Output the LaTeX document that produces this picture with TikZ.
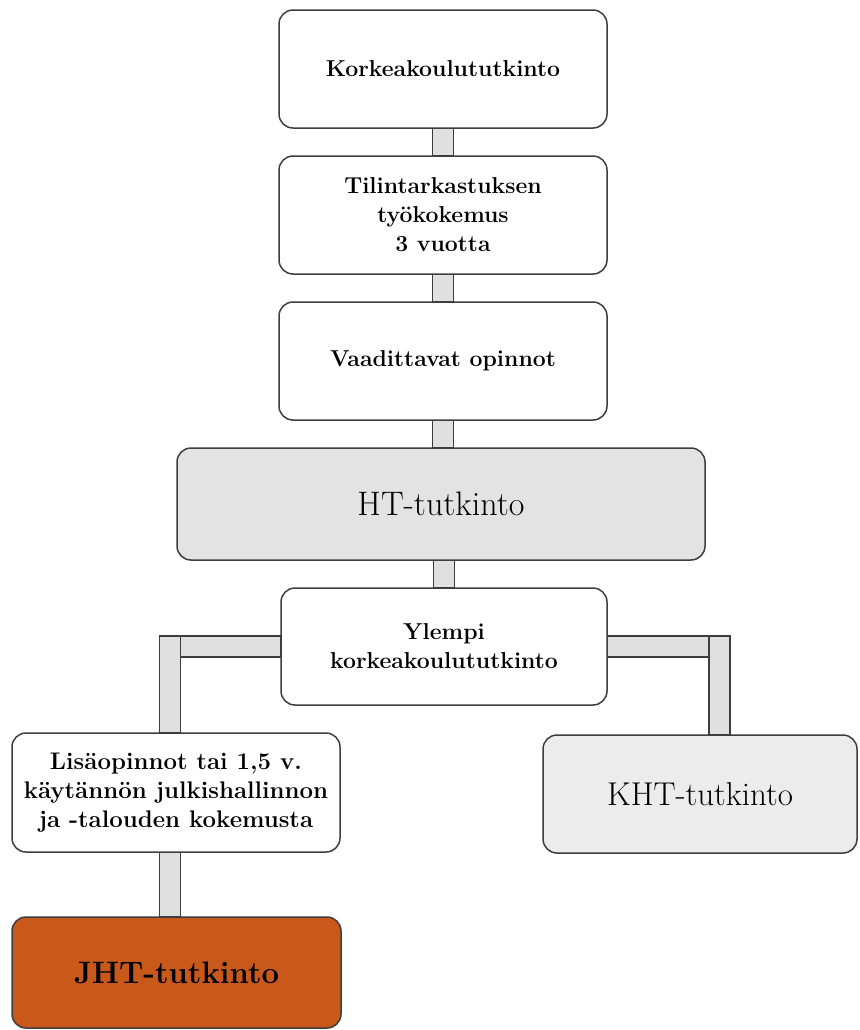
\documentclass[tikz,border=0pt]{standalone}
\usepackage{xcolor}
\usepackage{tikz}
\usetikzlibrary{
  backgrounds,
  calc
}
\definecolor{edgegray}{RGB}{62,62,62}
\definecolor{bargray}{RGB}{224,224,224}
\definecolor{htgray}{RGB}{227,227,227}
\definecolor{khtgray}{RGB}{236,236,236}
\definecolor{jhtorange}{RGB}{201,88,27}
\tikzset{
  stagebox/.style={
    draw=edgegray,
    fill=white,
    line width=0.75pt,
    rounded corners=7pt,
    minimum width=164pt,
    minimum height=59pt,
    inner sep=2pt,
    align=center,
    font=\fontsize{11.5}{14.5}\selectfont\bfseries,
  },
  exambox/.style={
    stagebox,
    fill=htgray,
    font=\fontsize{17}{20}\selectfont,
  },
  bar/.style={
    draw=edgegray,
    fill=bargray,
    line width=0.7pt,
  },
}

\begin{document}
\begin{tikzpicture}[
  x=0.5pt, y=-0.5pt,
]
  \useasboundingbox (0,0) rectangle (859,1030);

  % Main column
  \node[stagebox] (kk) at (443,69) {Korkeakoulututkinto};
  \node[stagebox] (tt) at (443,215) {Tilintarkastuksen\\työkokemus\\3 vuotta};
  \node[stagebox] (va) at (443,361) {Vaadittavat opinnot};
  \node[exambox, minimum width=264pt, minimum height=56pt] (ht) at (441,504) {HT-tutkinto};
  \node[stagebox, minimum width=163pt, minimum height=58.5pt] (yl) at (444,646.5)
    {Ylempi\\korkeakoulututkinto};

  % Left branch
  \node[stagebox, minimum height=59.5pt, font=\fontsize{12}{14.5}\selectfont\bfseries]
    (lis) at (176,792.5)
    {Lisäopinnot tai 1,5 v.\\käytännön julkishallinnon\\ja -talouden kokemusta};
  \node[exambox, fill=jhtorange, font=\fontsize{15.5}{18}\selectfont\bfseries,
    minimum width=164.5pt, minimum height=55.5pt] (jht) at (176.5,972.5) {JHT-tutkinto};

  % Right branch
  \node[exambox, fill=khtgray, font=\fontsize{16.5}{19}\selectfont,
    minimum width=157pt, minimum height=59pt] (kht) at (700,794) {KHT-tutkinto};

  \coordinate (lbend) at (170,646.5);
  \coordinate (rbend) at (719.5,646.5);
  \coordinate (lisin) at (lbend |- lis.north);
  \coordinate (lisout) at (lbend |- lis.south);
  \coordinate (jhtin) at (lbend |- jht.north);
  \coordinate (khtin) at (rbend |- kht.north);

  \begin{scope}[on background layer]
    \draw[bar] ([xshift=-5.25pt]kk.south) rectangle ([xshift=5.25pt]tt.north);
    \draw[bar] ([xshift=-5.25pt]tt.south) rectangle ([xshift=5.25pt]va.north);
    \draw[bar] ([xshift=-5.25pt]va.south) rectangle ([xshift=5.25pt]ht.north -| va.south);
    \draw[bar] ([xshift=-5.25pt]ht.south -| yl.north) rectangle ([xshift=5.25pt]yl.north);
    % elbows
    \draw[bar] ([yshift=5.25pt]yl.west) rectangle ([yshift=-5.25pt]lbend);
    \draw[bar] ([xshift=-5.25pt,yshift=5.25pt]lbend) rectangle ([xshift=5.25pt]lisin);
    \draw[bar] ([yshift=5.25pt]yl.east) rectangle ([yshift=-5.25pt]rbend);
    \draw[bar] ([xshift=-5.25pt,yshift=5.25pt]rbend) rectangle ([xshift=5.25pt]khtin);
    \draw[bar] ([xshift=-5.25pt]lisout) rectangle ([xshift=5.25pt]jhtin);
  \end{scope}
\end{tikzpicture}
\end{document}
